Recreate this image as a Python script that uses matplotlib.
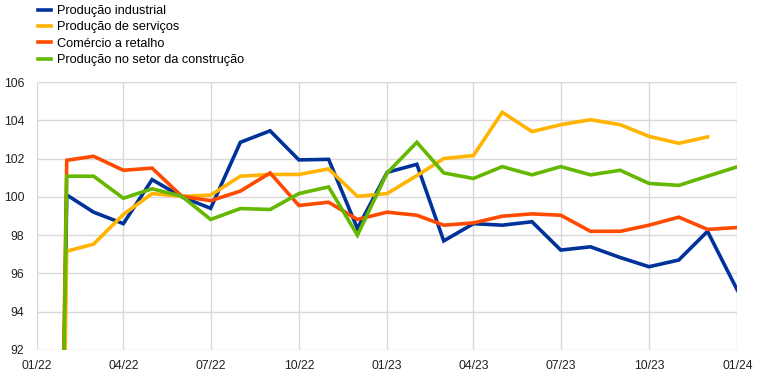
import pandas as pd
import matplotlib.pyplot as plt

plt.rcParams['font.family'] = ['Liberation Sans', 'DejaVu Sans']

months = pd.date_range('2022-01-01', '2024-01-01', freq='MS')

# values; the 01/22 point sits far below the axis
industrial = [0, 100.1, 99.2, 98.6, 100.9, 100.0, 99.4, 102.85, 103.45, 101.93, 101.96,
              98.35, 101.28, 101.7, 97.7, 98.6, 98.52, 98.7, 97.22, 97.39, 96.83,
              96.35, 96.7, 98.2, 95.13]
services = [0, 97.16, 97.53, 99.08, 100.17, 100.03, 100.09, 101.08, 101.17, 101.17, 101.46,
            100.03, 100.17, 101.11, 102.0, 102.16, 104.42, 103.41, 103.77, 104.03, 103.77,
            103.16, 102.8, 103.13, None]
retail = [0, 101.91, 102.12, 101.39, 101.5, 100.03, 99.8, 100.3, 101.25, 99.55, 99.72,
          98.82, 99.2, 99.04, 98.52, 98.64, 98.99, 99.11, 99.04, 98.2, 98.2,
          98.52, 98.94, 98.3, 98.4]
construction = [0, 101.08, 101.08, 99.93, 100.42, 100.03, 98.82, 99.39, 99.34, 100.17, 100.52,
                98.0, 101.25, 102.85, 101.25, 100.96, 101.58, 101.15, 101.58, 101.15, 101.39,
                100.7, 100.6, 101.08, 101.57]

labels = ['Produção industrial', 'Produção de serviços', 'Comércio a retalho',
          'Produção no setor da construção']
colors = ['#003299', '#ffb400', '#ff4b00', '#65b800']
tick_labels = ['01/22', '04/22', '07/22', '10/22', '01/23', '04/23', '07/23', '10/23', '01/24']

fig = plt.figure(figsize=(7.66, 3.75), dpi=100)
ax = fig.add_axes([0.0483, 0.0667, 0.9142, 0.7146])

for vals, lab, col in zip([industrial, services, retail, construction], labels, colors):
    s = pd.Series(vals, index=months, dtype=float)
    ax.plot(s.index, s.values, color=col, lw=2.6, label=lab, solid_joinstyle='miter')

ax.set_ylim(92, 106)
ax.set_yticks(range(92, 107, 2))
ax.set_xlim(months[0], months[-1])
ticks = months[::3]
ax.set_xticks(ticks)
ax.set_xticklabels(tick_labels)
ax.grid(True, color='#d9d9d9', lw=1)
ax.set_axisbelow(True)
for sp in ax.spines.values():
    sp.set_visible(False)
ax.tick_params(length=0, labelsize=8.8, colors='#222222')
ax.tick_params(axis='y', pad=9)
ax.tick_params(axis='x', pad=7)

fig.legend(loc='upper left', bbox_to_anchor=(0.043, 1.0), frameon=False, fontsize=9.2,
           handlelength=1.0, handletextpad=0.5, labelspacing=0.34, borderaxespad=0)

fig.savefig('out.png', dpi=100)
